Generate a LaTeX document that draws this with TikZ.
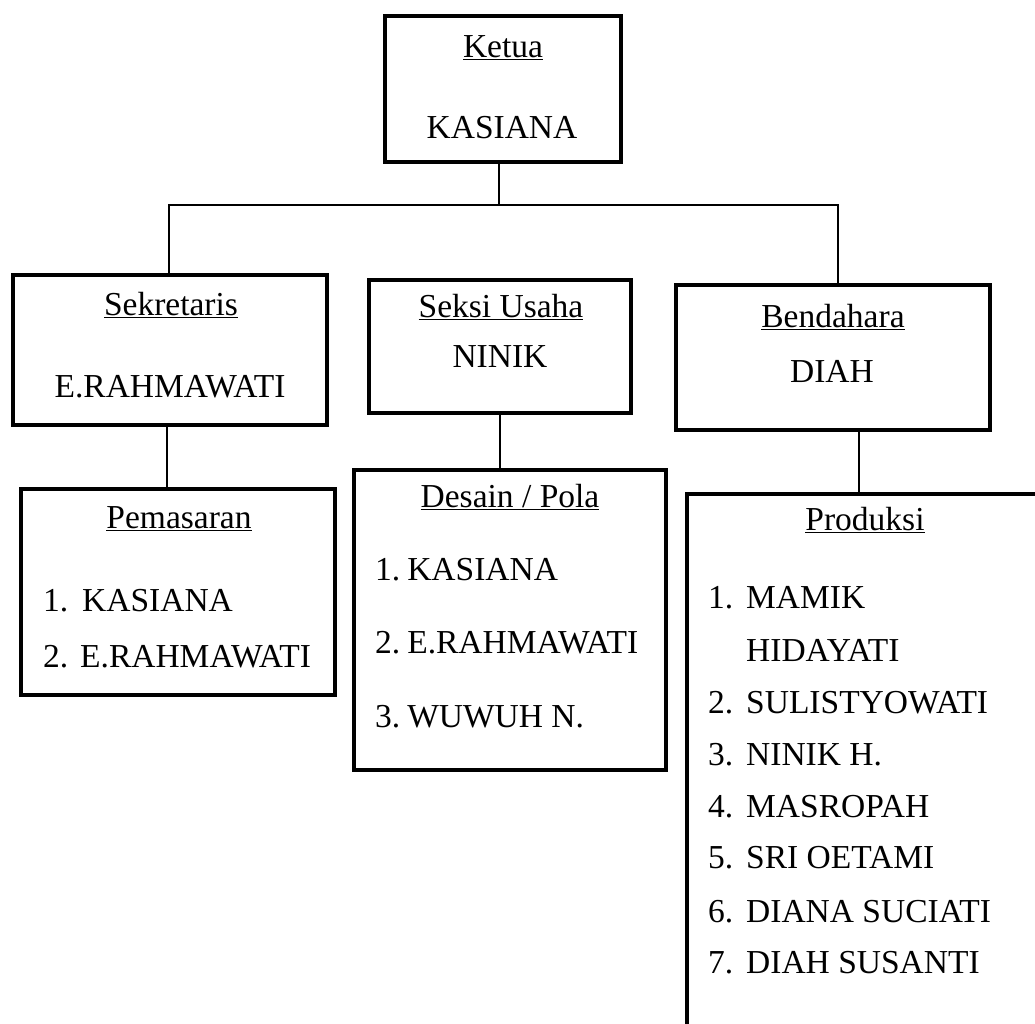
\documentclass[tikz,border=0pt]{standalone}
\usepackage{fontspec}
\setmainfont{Liberation Serif}
\begin{document}
\begin{tikzpicture}[x=1pt,y=-1pt,
  box/.style={draw, rectangle, line width=4.5pt, inner sep=0pt},
  conn/.style={line width=1.6pt},
  txt/.style={inner sep=0pt, anchor=base, font=\fontsize{33.5}{38}\selectfont},
  item/.style={txt, anchor=base west}]
\useasboundingbox (0,0) rectangle (1035,1023);
% boxes
\node[box, minimum width=236pt, minimum height=146pt] (ketua) at (503,89) {};
\node[box, minimum width=314pt, minimum height=150pt] (sek) at (170,350) {};
\node[box, minimum width=262pt, minimum height=133pt] (seksi) at (500,346.5) {};
\node[box, minimum width=314pt, minimum height=145pt] (bend) at (833,357.5) {};
\node[box, minimum width=314pt, minimum height=206pt] (pem) at (178,592) {};
\node[box, minimum width=312pt, minimum height=300pt] (desain) at (510,620) {};
% open Produksi box
\coordinate (prodbl) at (687,1030);
\coordinate (prodtl) at (687,494);
\coordinate (prodtr) at (1045,494);
\coordinate (prodtop) at (859,494);
\draw[line width=4.5pt] (prodbl) -- (prodtl) -- (prodtr);
% connectors
\draw[conn] ([xshift=-4pt]ketua.south) -- ++(0,41) coordinate (bus);
\draw[conn] ([xshift=-1pt]sek.north) |- (bus) -| ([xshift=5pt]bend.north);
\draw[conn] ([xshift=-3pt]sek.south) -- ([xshift=-3pt]sek.south |- pem.north);
\draw[conn] (seksi.south) -- (seksi.south |- desain.north);
\draw[conn] ([xshift=26pt]bend.south) -- (prodtop);
% texts
\node[txt] (t-ketua) at (503,57) {\underline{Ketua}};
\node[txt] (t-kasiana) at (502,138) {KASIANA};
\node[txt] (t-sek) at (171,315) {\underline{Sekretaris}};
\node[txt] (t-erah) at (170,397) {E.RAHMAWATI};
\node[txt] (t-seksi) at (501,317) {\underline{Seksi Usaha}};
\node[txt] (t-ninik) at (500,367) {NINIK};
\node[txt] (t-bend) at (833,327) {\underline{Bendahara}};
\node[txt] (t-diah) at (832,382) {DIAH};
\node[txt] (t-pem) at (179,528) {\underline{Pemasaran}};
\node[item] (p1) at (43,611) {\makebox[39pt][l]{1.}KASIANA};
\node[item] (p2) at (43,667) {\makebox[37pt][l]{2.}E.RAHMAWATI};
\node[txt] (t-desain) at (510,507) {\underline{Desain / Pola}};
\node[item] (d1) at (375,580) {1.\hspace{7pt}KASIANA};
\node[item] (d2) at (375,653) {2.\hspace{7pt}E.RAHMAWATI};
\node[item] (d3) at (375,727) {3.\hspace{7pt}WUWUH N.};
\node[txt] (t-prod) at (865,530) {\underline{Produksi}};
\node[item] (r1) at (708,608) {\makebox[38pt][l]{1.}MAMIK};
\node[item] (r1b) at (746,661) {HIDAYATI};
\node[item] (r2) at (708,713) {\makebox[38pt][l]{2.}SULISTYOWATI};
\node[item] (r3) at (708,765) {\makebox[38pt][l]{3.}NINIK H.};
\node[item] (r4) at (708,817) {\makebox[38pt][l]{4.}MASROPAH};
\node[item] (r5) at (708,868) {\makebox[38pt][l]{5.}SRI OETAMI};
\node[item] (r6) at (708,922) {\makebox[38pt][l]{6.}DIANA SUCIATI};
\node[item] (r7) at (708,973) {\makebox[38pt][l]{7.}DIAH SUSANTI};
\end{tikzpicture}
\end{document}
